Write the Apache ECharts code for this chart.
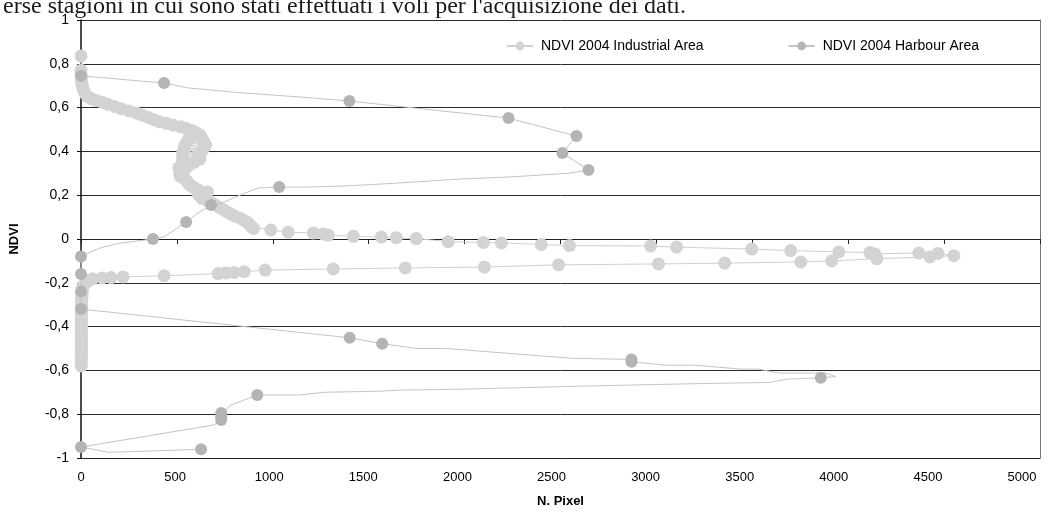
<!DOCTYPE html>
<html>
<head>
<meta charset="utf-8">
<script src="https://cdn.jsdelivr.net/npm/echarts@6/dist/echarts.min.js"></script>
<style>
html,body{margin:0;padding:0;background:#fff;}
#chart{width:1056px;height:516px;}
</style>
</head>
<body>
<div id="chart"></div>
<script>
// ---- data ----
const headerText = "erse stagioni in cui sono stati effettuati i voli per l'acquisizione dei dati.";
const seriesNames = ["NDVI 2004 Industrial Area", "NDVI 2004 Harbour Area"];
const xTicks = { min: 0, max: 5000, step: 500 };
const yTicks = { min: -1, max: 1, step: 0.2 };
const xTitle = "N. Pixel";
const yTitle = "NDVI";

// [N. Pixel, NDVI, marker(1)/line vertex only(0)]
const industrial = [
  [0,0.836,1],[0,0.77,1],[0,0.755,1],[2,0.74,1],[3,0.725,1],[5,0.71,1],[8,0.695,1],[12,0.68,1],
  [20,0.665,1],[35,0.65,1],[55,0.64,1],[80,0.632,1],[110,0.625,1],[140,0.615,1],[175,0.605,1],
  [210,0.595,1],[250,0.585,1],[290,0.575,1],[320,0.565,1],[350,0.555,1],[380,0.545,1],[410,0.535,1],
  [445,0.528,1],[480,0.52,1],[520,0.512,1],[550,0.505,1],[580,0.495,1],[600,0.485,1],[620,0.475,1],
  [580,0.47,1],[630,0.46,1],[560,0.455,1],[640,0.445,1],[550,0.44,1],[650,0.43,1],[540,0.425,1],
  [640,0.415,1],[540,0.41,1],[630,0.40,1],[530,0.395,1],[610,0.385,1],[530,0.375,1],[620,0.365,1],
  [530,0.36,1],[590,0.35,1],[530,0.345,1],[560,0.335,1],[510,0.325,1],[540,0.315,1],[530,0.305,1],
  [515,0.295,1],[520,0.285,1],[540,0.275,1],[550,0.265,1],
  [560,0.255,1],[570,0.245,1],[590,0.235,1],[610,0.225,1],[660,0.215,1],[610,0.205,1],[640,0.195,1],
  [630,0.185,1],[660,0.175,1],[680,0.165,1],[700,0.155,1],[720,0.145,1],[740,0.135,1],[760,0.125,1],
  [780,0.115,1],[800,0.105,1],[830,0.095,1],[850,0.085,1],[870,0.075,1],[880,0.065,1],[890,0.055,1],
  [900,0.048,1],[990,0.041,1],[1080,0.031,1],[1211,0.027,1],[1263,0.023,1],[1289,0.018,1],[1420,0.012,1],
  [1566,0.009,1],[1644,0.006,1],[1748,0.002,1],[1915,-0.012,1],[2098,-0.016,1],[2192,-0.018,1],
  [2400,-0.025,1],[2547,-0.03,1],[2970,-0.032,1],[3105,-0.037,1],[3497,-0.046,1],[3700,-0.053,1],
  [3951,-0.059,1],[4113,-0.062,1],[4140,-0.068,1],[4368,-0.064,1],[4468,-0.066,1],[4551,-0.076,1],
  [4426,-0.082,1],[4149,-0.09,1],[3914,-0.1,1],[3753,-0.105,1],[3356,-0.11,1],[3011,-0.114,1],
  [2490,-0.118,1],[2103,-0.128,1],[1691,-0.132,1],[1315,-0.137,1],[960,-0.142,1],[851,-0.149,1],
  [799,-0.153,1],[757,-0.155,1],[715,-0.158,1],[433,-0.168,1],[219,-0.173,1],[157,-0.176,1],
  [110,-0.178,1],[60,-0.182,1],[40,-0.19,1],[25,-0.2,1],[15,-0.21,1],[10,-0.22,1],[8,-0.23,1],
  [6,-0.24,1],[5,-0.25,1],[5,-0.26,1],[4,-0.27,1],[4,-0.28,1],[3,-0.29,1],[3,-0.3,1],[3,-0.31,1],
  [3,-0.32,1],[2,-0.33,1],[2,-0.34,1],[2,-0.35,1],[2,-0.36,1],[2,-0.37,1],[2,-0.38,1],[2,-0.39,1],
  [2,-0.4,1],[2,-0.41,1],[2,-0.42,1],[2,-0.43,1],[2,-0.44,1],[2,-0.45,1],[2,-0.46,1],[2,-0.47,1],
  [2,-0.48,1],[2,-0.49,1],[2,-0.5,1],[2,-0.51,1],[2,-0.52,1],[2,-0.53,1],[1,-0.54,1],[1,-0.55,1],
  [1,-0.56,1],[1,-0.57,1],[1,-0.58,1]
];

const harbour = [
  [0,0.745,1],[433,0.712,1],[558,0.69,0],[800,0.67,0],[1148,0.648,0],[1399,0.63,1],[2229,0.552,1],
  [2583,0.47,1],[2510,0.393,1],[2646,0.315,1],[2541,0.30,0],[2229,0.283,0],[1983,0.274,0],
  [1644,0.255,0],[1394,0.243,0],[1185,0.237,0],[1033,0.237,1],[924,0.233,0],[800,0.19,0],
  [731,0.163,0],[678,0.155,1],[610,0.118,0],[548,0.078,1],[486,0.04,0],[433,0.01,0],[375,0,1],
  [193,-0.02,0],[104,-0.04,0],[35,-0.065,0],[0,-0.08,1],[0,-0.16,1],[0,-0.24,1],[0,-0.32,1],
  [1401,-0.451,1],[1570,-0.478,1],[1752,-0.5,0],[1906,-0.5,0],[2563,-0.545,0],[2870,-0.55,1],
  [2870,-0.56,1],[3046,-0.576,0],[3200,-0.576,0],[3440,-0.594,0],[3530,-0.594,0],[3640,-0.612,0],
  [3880,-0.612,0],[3934,-0.628,0],[3857,-0.634,1],[3680,-0.64,0],[3590,-0.655,0],[3240,-0.66,0],
  [2700,-0.67,0],[2015,-0.685,0],[1665,-0.69,0],[1555,-0.695,0],[1270,-0.70,0],[1140,-0.712,0],
  [919,-0.712,1],[783,-0.758,0],[731,-0.795,1],[731,-0.81,1],[731,-0.826,1],[694,-0.849,0],
  [0,-0.95,1],[139,-0.973,0],[198,-0.973,0],[626,-0.96,1]
];

// ---- build ----
function toItems(arr) {
  return arr.map(p => p[2] ? { value: [p[0], p[1]] } : { value: [p[0], p[1]], symbol: 'none' });
}
function fmtY(v) {
  const r = Math.round(v * 10) / 10;
  return String(r).replace('.', ',');
}
// the source chart's x labels drift slightly left of their ticks; mimic with rich padding
const xRich = {};
const nX = Math.round((xTicks.max - xTicks.min) / xTicks.step);
for (let i = 0; i <= nX; i++) {
  xRich['r' + i] = { fontFamily: 'Liberation Sans, Arial, sans-serif', fontSize: 13, color: '#000', padding: [0, i * 3.6, 0, 0] };
}
function fmtX(v) {
  const i = Math.round((v - xTicks.min) / xTicks.step);
  return '{r' + i + '|' + Math.round(v) + '}';
}
const FONT = 'Liberation Sans, Arial, sans-serif';

const chart = echarts.init(document.getElementById('chart'), null, { renderer: 'canvas' });
chart.setOption({
  animation: false,
  backgroundColor: '#ffffff',
  title: {
    text: headerText,
    left: -2,
    top: -10,
    textStyle: { fontFamily: 'Liberation Serif, Times New Roman, serif', fontSize: 24, fontWeight: 'normal', color: '#1a1a1a' }
  },
  grid: { left: 80, right: 16, top: 20, bottom: 58, containLabel: false },
  legend: {
    top: 34,
    left: 501,
    itemWidth: 26,
    itemHeight: 11,
    itemGap: 84,
    textStyle: { fontFamily: FONT, fontSize: 14, color: '#000', padding: [0, 0, 0, 3] },
    data: seriesNames
  },
  xAxis: [
    {
      type: 'value', min: xTicks.min, max: xTicks.max, interval: xTicks.step, position: 'bottom',
      axisLine: { onZero: false, lineStyle: { color: '#222', width: 1 } },
      axisTick: { show: false },
      splitLine: { show: false },
      axisLabel: { fontFamily: FONT, fontSize: 13, color: '#000', margin: 13, formatter: fmtX, rich: xRich },
      name: xTitle, nameLocation: 'middle', nameGap: 37,
      nameTextStyle: { fontFamily: FONT, fontSize: 13, fontWeight: 'bold', color: '#000' }
    },
    {
      type: 'value', min: xTicks.min, max: xTicks.max, interval: xTicks.step, position: 'bottom',
      axisLine: { onZero: true, onZeroAxisIndex: 0, lineStyle: { color: '#222', width: 1 } },
      axisTick: { show: true, inside: false, length: 5, lineStyle: { color: '#222' } },
      axisLabel: { show: false },
      splitLine: { show: false }
    }
  ],
  yAxis: [
    {
      type: 'value', min: yTicks.min, max: yTicks.max, interval: yTicks.step, position: 'left',
      axisLine: { show: true, onZero: false, lineStyle: { color: '#111', width: 1.5 } },
      axisTick: { show: true, inside: false, length: 4, lineStyle: { color: '#111' } },
      splitLine: { show: true, lineStyle: { color: '#2a2a2a', width: 1 } },
      axisLabel: { fontFamily: FONT, fontSize: 14, color: '#000', margin: 12, formatter: fmtY },
      name: yTitle, nameLocation: 'middle', nameGap: 60, nameRotate: 90,
      nameTextStyle: { fontFamily: FONT, fontSize: 13, fontWeight: 'bold', color: '#000' }
    },
    {
      type: 'value', min: yTicks.min, max: yTicks.max, interval: yTicks.step, position: 'right',
      axisLine: { show: true, onZero: false, lineStyle: { color: '#777', width: 1 } },
      axisTick: { show: false }, axisLabel: { show: false }, splitLine: { show: false }
    }
  ],
  series: [
    {
      name: seriesNames[0], type: 'line', xAxisIndex: 0, yAxisIndex: 0,
      data: toItems(industrial),
      symbol: 'circle', symbolSize: 13, showSymbol: true,
      itemStyle: { color: '#d3d3d3' },
      lineStyle: { color: '#d0d0d0', width: 1 },
      emphasis: { disabled: true }, z: 2
    },
    {
      name: seriesNames[1], type: 'line', xAxisIndex: 0, yAxisIndex: 0,
      data: toItems(harbour),
      symbol: 'circle', symbolSize: 12, showSymbol: true,
      itemStyle: { color: '#b4b4b4' },
      lineStyle: { color: '#c4c4c4', width: 1 },
      emphasis: { disabled: true }, z: 3
    }
  ]
});
</script>
</body>
</html>
